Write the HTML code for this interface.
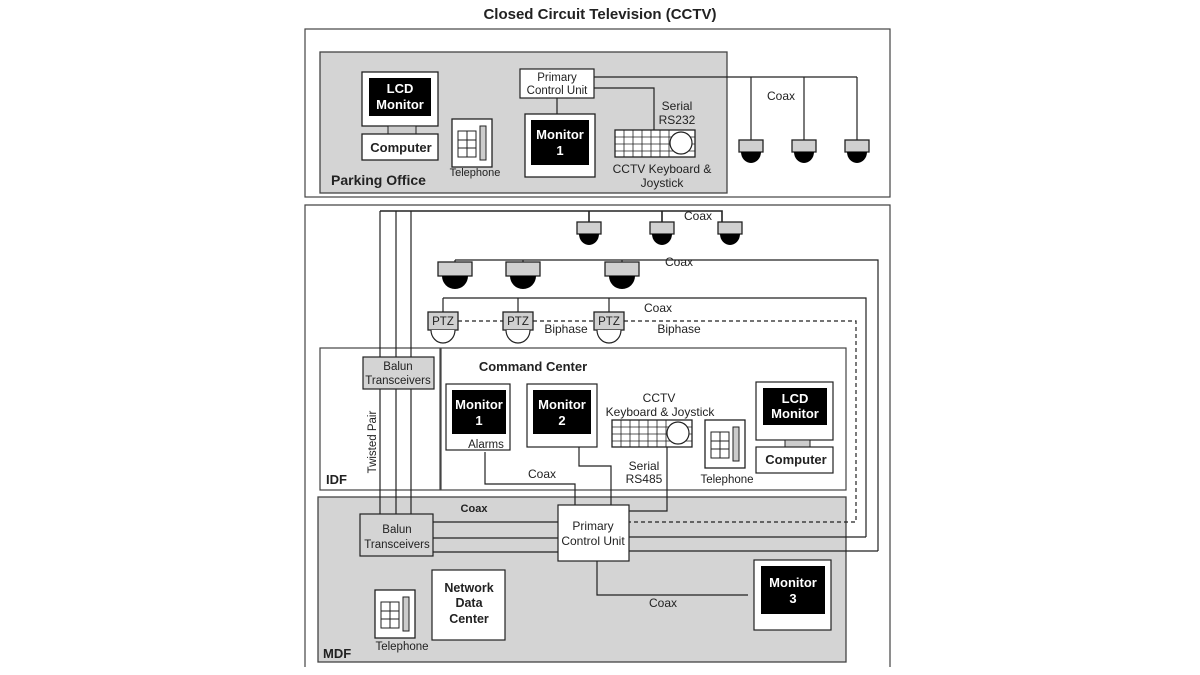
<!DOCTYPE html>
<html><head><meta charset="utf-8"><style>
html,body{margin:0;padding:0;background:#fff;}
svg{display:block;font-family:"Liberation Sans",Arial,sans-serif;}
</style></head><body>
<svg width="1200" height="675" viewBox="0 0 1200 675" xmlns="http://www.w3.org/2000/svg">
<defs>
<g id="cam"><rect x="-12" y="0" width="24" height="12" fill="#d0d0d0" stroke="#222" stroke-width="1.3"/><path d="M-10 12 A10 11 0 0 0 10 12 Z" fill="#000"/></g>
<g id="camL"><rect x="-17" y="0" width="34" height="14" fill="#d0d0d0" stroke="#222" stroke-width="1.3"/><path d="M-13 14 A13 13 0 0 0 13 14 Z" fill="#000"/></g>
<g id="ptz"><rect x="-15" y="0" width="30" height="18" fill="#d0d0d0" stroke="#222" stroke-width="1.3"/><path d="M-12 18 A12 13 0 0 0 12 18" fill="#fff" stroke="#222" stroke-width="1.2"/></g>
<g id="tel"><rect x="0" y="0" width="40" height="48" fill="#fff" stroke="#222" stroke-width="1.3"/><rect x="6" y="12" width="18" height="26" fill="#fff" stroke="#222"/><line x1="15" y1="12" x2="15" y2="38" stroke="#222"/><line x1="6" y1="21" x2="24" y2="21" stroke="#222"/><line x1="6" y1="29" x2="24" y2="29" stroke="#222"/><rect x="28" y="7" width="6" height="34" fill="#ccc" stroke="#222"/></g>
<g id="kbd"><rect x="0" y="0" width="80" height="27" fill="#fff" stroke="#222" stroke-width="1.3"/>
<path d="M0 7H80M0 14H80M0 21H80M9 0V27M18 0V27M27 0V27M36 0V27M45 0V27M54 0V27" stroke="#222" stroke-width="0.8"/><circle cx="66" cy="13" r="11" fill="#fff" stroke="#222" stroke-width="1.2"/></g>
</defs>
<text x="600" y="19" text-anchor="middle" font-size="15" font-weight="bold" fill="#222">Closed Circuit Television (CCTV)</text>

<!-- top section -->
<rect x="305" y="29" width="585" height="168" fill="#fff" stroke="#444" stroke-width="1.2"/>
<rect x="320" y="52" width="407" height="141" fill="#d4d4d4" stroke="#444" stroke-width="1.3"/>
<rect x="362" y="72" width="76" height="54" fill="#fff" stroke="#222" stroke-width="1.3"/>
<rect x="369" y="78" width="62" height="38" fill="#000"/>
<text x="400" y="93" text-anchor="middle" font-size="13" font-weight="bold" fill="#fff">LCD</text>
<text x="400" y="109" text-anchor="middle" font-size="13" font-weight="bold" fill="#fff">Monitor</text>
<rect x="388" y="126" width="28" height="8" fill="#ccc" stroke="#222"/>
<rect x="362" y="134" width="76" height="26" fill="#fff" stroke="#222" stroke-width="1.3"/>
<text x="401" y="152" text-anchor="middle" font-size="13" font-weight="bold" fill="#222">Computer</text>
<use href="#tel" x="452" y="119"/>
<text x="475" y="176" text-anchor="middle" font-size="11" fill="#222">Telephone</text>
<text x="331" y="185" font-size="14" font-weight="bold" fill="#222">Parking Office</text>
<path d="M594 77H857M751 77V140M804 77V140M857 77V140M594 88H654V130M557 98V114" fill="none" stroke="#222" stroke-width="1.2"/>
<rect x="520" y="69" width="74" height="29" fill="#fff" stroke="#222" stroke-width="1.2"/>
<text x="557" y="81" text-anchor="middle" font-size="11.5" fill="#222">Primary</text>
<text x="557" y="94" text-anchor="middle" font-size="11.5" fill="#222">Control Unit</text>
<rect x="525" y="114" width="70" height="63" fill="#fff" stroke="#222" stroke-width="1.3"/>
<rect x="531" y="120" width="58" height="45" fill="#000"/>
<text x="560" y="139" text-anchor="middle" font-size="13" font-weight="bold" fill="#fff">Monitor</text>
<text x="560" y="155" text-anchor="middle" font-size="13" font-weight="bold" fill="#fff">1</text>
<use href="#kbd" x="615" y="130"/>
<text x="677" y="110" text-anchor="middle" font-size="12" fill="#222">Serial</text>
<text x="677" y="124" text-anchor="middle" font-size="12" fill="#222">RS232</text>
<text x="662" y="173" text-anchor="middle" font-size="12" fill="#222">CCTV Keyboard &amp;</text>
<text x="662" y="187" text-anchor="middle" font-size="12" fill="#222">Joystick</text>
<text x="781" y="100" text-anchor="middle" font-size="12" fill="#222">Coax</text>
<use href="#cam" x="751" y="140"/><use href="#cam" x="804" y="140"/><use href="#cam" x="857" y="140"/>

<!-- bottom section -->
<path d="M305 667V205H890V667" fill="none" stroke="#444" stroke-width="1.2"/>
<rect x="318" y="497" width="528" height="165" fill="#d4d4d4" stroke="#444" stroke-width="1.3"/>
<rect x="320" y="348" width="120" height="142" fill="#fff" stroke="#444" stroke-width="1.2"/>
<rect x="441" y="348" width="405" height="142" fill="#fff" stroke="#444" stroke-width="1.2"/>

<path d="M380 211H722V222M589 211V222M662 211V222" fill="none" stroke="#222" stroke-width="1.6"/>
<path d="M380 211V514M396 211V514M411 211V514" stroke="#222" stroke-width="1.2"/>
<path d="M455 260H878V551M455 260V268M523 260V268M622 260V268" fill="none" stroke="#222" stroke-width="1.2"/>
<path d="M443 298H866V537M443 298V312M518 298V312M609 298V312" fill="none" stroke="#222" stroke-width="1.2"/>
<path d="M458 321H503M533 321H594M624 321H856V522H629" fill="none" stroke="#222" stroke-width="1.2" stroke-dasharray="4,3"/>
<use href="#cam" x="589" y="222"/><use href="#cam" x="662" y="222"/><use href="#cam" x="730" y="222"/>
<use href="#camL" x="455" y="262"/><use href="#camL" x="523" y="262"/><use href="#camL" x="622" y="262"/>
<use href="#ptz" x="443" y="312"/><use href="#ptz" x="518" y="312"/><use href="#ptz" x="609" y="312"/>
<text x="443" y="325" text-anchor="middle" font-size="11.5" fill="#222">PTZ</text>
<text x="518" y="325" text-anchor="middle" font-size="11.5" fill="#222">PTZ</text>
<text x="609" y="325" text-anchor="middle" font-size="11.5" fill="#222">PTZ</text>
<text x="698" y="220" text-anchor="middle" font-size="12" fill="#222">Coax</text>
<text x="679" y="266" text-anchor="middle" font-size="12" fill="#222">Coax</text>
<text x="658" y="312" text-anchor="middle" font-size="12" fill="#222">Coax</text>
<text x="566" y="333" text-anchor="middle" font-size="12" fill="#222">Biphase</text>
<text x="679" y="333" text-anchor="middle" font-size="12" fill="#222">Biphase</text>

<rect x="363" y="357" width="71" height="32" fill="#d4d4d4" stroke="#222" stroke-width="1.2"/>
<text x="398" y="370" text-anchor="middle" font-size="11.5" fill="#222">Balun</text>
<text x="398" y="384" text-anchor="middle" font-size="11.5" fill="#222">Transceivers</text>
<text transform="translate(376,442) rotate(-90)" text-anchor="middle" font-size="11.5" fill="#222">Twisted Pair</text>
<text x="326" y="484" font-size="13" font-weight="bold" fill="#222">IDF</text>

<text x="533" y="371" text-anchor="middle" font-size="13" font-weight="bold" fill="#222">Command Center</text>
<rect x="446" y="384" width="64" height="66" fill="#fff" stroke="#222" stroke-width="1.2"/>
<rect x="452" y="390" width="54" height="44" fill="#000"/>
<text x="479" y="409" text-anchor="middle" font-size="13" font-weight="bold" fill="#fff">Monitor</text>
<text x="479" y="425" text-anchor="middle" font-size="13" font-weight="bold" fill="#fff">1</text>
<text x="486" y="448" text-anchor="middle" font-size="11.5" fill="#222">Alarms</text>
<rect x="527" y="384" width="70" height="63" fill="#fff" stroke="#222" stroke-width="1.2"/>
<rect x="533" y="390" width="58" height="44" fill="#000"/>
<text x="562" y="409" text-anchor="middle" font-size="13" font-weight="bold" fill="#fff">Monitor</text>
<text x="562" y="425" text-anchor="middle" font-size="13" font-weight="bold" fill="#fff">2</text>
<text x="659" y="402" text-anchor="middle" font-size="12" fill="#222">CCTV</text>
<text x="660" y="416" text-anchor="middle" font-size="12" fill="#222">Keyboard &amp; Joystick</text>
<use href="#kbd" x="612" y="420"/>
<use href="#tel" x="705" y="420"/>
<text x="727" y="483" text-anchor="middle" font-size="11.5" fill="#222">Telephone</text>
<rect x="756" y="382" width="77" height="58" fill="#fff" stroke="#222" stroke-width="1.2"/>
<rect x="763" y="388" width="64" height="37" fill="#000"/>
<text x="795" y="403" text-anchor="middle" font-size="13" font-weight="bold" fill="#fff">LCD</text>
<text x="795" y="418" text-anchor="middle" font-size="13" font-weight="bold" fill="#fff">Monitor</text>
<rect x="785" y="440" width="25" height="7" fill="#ccc" stroke="#222"/>
<rect x="756" y="447" width="77" height="26" fill="#fff" stroke="#222" stroke-width="1.2"/>
<text x="796" y="464" text-anchor="middle" font-size="13" font-weight="bold" fill="#222">Computer</text>
<path d="M485 452V484H575V506M579 447V466H611V506M667 447V511H629" fill="none" stroke="#222" stroke-width="1.2"/>
<text x="542" y="478" text-anchor="middle" font-size="12" fill="#222">Coax</text>
<text x="644" y="470" text-anchor="middle" font-size="12" fill="#222">Serial</text>
<text x="644" y="483" text-anchor="middle" font-size="12" fill="#222">RS485</text>

<text x="474" y="512" text-anchor="middle" font-size="11" font-weight="bold" fill="#222">Coax</text>
<path d="M433 522H558M433 538H558M433 552H558M629 537H866M629 551H878M597 561V595H748" fill="none" stroke="#222" stroke-width="1.2"/>
<rect x="360" y="514" width="73" height="42" fill="#d4d4d4" stroke="#222" stroke-width="1.2"/>
<text x="397" y="533" text-anchor="middle" font-size="11.5" fill="#222">Balun</text>
<text x="397" y="548" text-anchor="middle" font-size="11.5" fill="#222">Transceivers</text>
<rect x="558" y="505" width="71" height="56" fill="#fff" stroke="#222" stroke-width="1.2"/>
<text x="593" y="530" text-anchor="middle" font-size="12" fill="#222">Primary</text>
<text x="593" y="545" text-anchor="middle" font-size="12" fill="#222">Control Unit</text>
<use href="#tel" x="375" y="590"/>
<text x="402" y="650" text-anchor="middle" font-size="11.5" fill="#222">Telephone</text>
<rect x="432" y="570" width="73" height="70" fill="#fff" stroke="#222" stroke-width="1.2"/>
<text x="469" y="592" text-anchor="middle" font-size="12.5" font-weight="bold" fill="#222">Network</text>
<text x="469" y="607" text-anchor="middle" font-size="12.5" font-weight="bold" fill="#222">Data</text>
<text x="469" y="623" text-anchor="middle" font-size="12.5" font-weight="bold" fill="#222">Center</text>
<rect x="754" y="560" width="77" height="70" fill="#fff" stroke="#222" stroke-width="1.2"/>
<rect x="761" y="566" width="64" height="48" fill="#000"/>
<text x="793" y="587" text-anchor="middle" font-size="13" font-weight="bold" fill="#fff">Monitor</text>
<text x="793" y="603" text-anchor="middle" font-size="13" font-weight="bold" fill="#fff">3</text>
<text x="663" y="607" text-anchor="middle" font-size="12" fill="#222">Coax</text>
<text x="323" y="658" font-size="13" font-weight="bold" fill="#222">MDF</text>
</svg>
</body></html>
